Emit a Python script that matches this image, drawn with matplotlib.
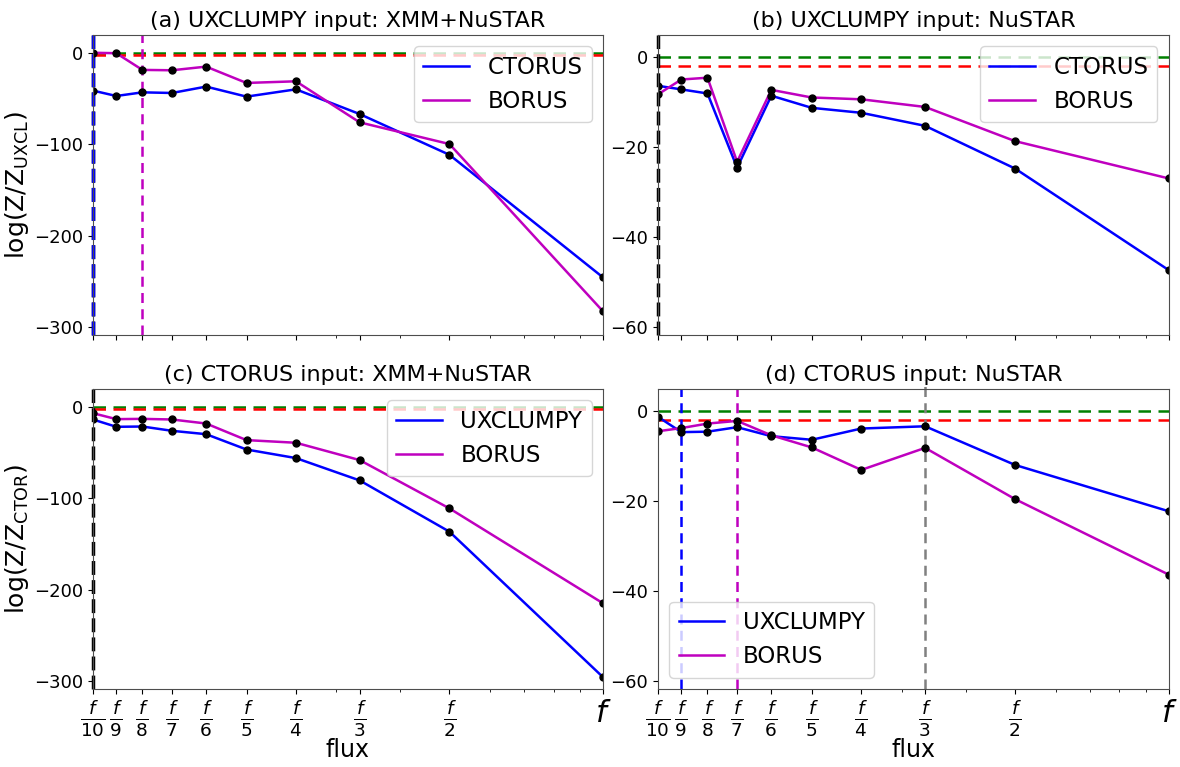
import matplotlib

matplotlib.use("Agg")
import matplotlib.pyplot as plt

# flux grid (fractions of f)
flux = [1 / 10, 1 / 9, 1 / 8, 1 / 7, 1 / 6, 1 / 5, 1 / 4, 1 / 3, 1 / 2, 1]
tick_labels = [r"$\frac{f}{10}$", r"$\frac{f}{9}$", r"$\frac{f}{8}$", r"$\frac{f}{7}$",
               r"$\frac{f}{6}$", r"$\frac{f}{5}$", r"$\frac{f}{4}$", r"$\frac{f}{3}$",
               r"$\frac{f}{2}$", r"$f$"]

# (a) UXCLUMPY input, XMM+NuSTAR
a_ctorus = [-41, -46.9, -42.9, -43.6, -36.6, -47.6, -39.6, -66.7, -111.4, -245.8]
a_borus = [0.5, 0, -18.3, -18.7, -14.7, -32.6, -30.8, -75.8, -99.6, -283]
# (b) UXCLUMPY input, NuSTAR
b_ctorus = [-6.4, -7.2, -8.1, -24.6, -8.6, -11.3, -12.4, -15.3, -24.8, -47.4]
b_borus = [-8.3, -5.0, -4.6, -23.3, -7.3, -9.0, -9.4, -11.1, -18.7, -27.0]
# (c) CTORUS input, XMM+NuSTAR
c_uxclumpy = [-13.5, -21.5, -21.2, -25.9, -29.6, -46.4, -55.8, -80.3, -136.5, -296]
c_borus = [-6.6, -13.1, -12.8, -13.5, -17.9, -36.1, -39, -58, -111, -215]
# (d) CTORUS input, NuSTAR
d_uxclumpy = [-1.3, -4.7, -4.6, -3.6, -5.6, -6.4, -3.9, -3.4, -12.0, -22.3]
d_borus = [-4.5, -3.8, -2.8, -2.2, -5.4, -8.1, -13.1, -8.2, -19.6, -36.4]

panels = [
    ("(a) UXCLUMPY input: XMM+NuSTAR", ("CTORUS", a_ctorus), ("BORUS", a_borus),
     [(1 / 10, "k"), (1 / 10, "b"), (1 / 8, "m")], "upper right"),
    ("(b) UXCLUMPY input: NuSTAR", ("CTORUS", b_ctorus), ("BORUS", b_borus),
     [(1 / 10, "k")], "upper right"),
    ("(c) CTORUS input: XMM+NuSTAR", ("UXCLUMPY", c_uxclumpy), ("BORUS", c_borus),
     [(1 / 10, "k")], "upper right"),
    ("(d) CTORUS input: NuSTAR", ("UXCLUMPY", d_uxclumpy), ("BORUS", d_borus),
     [(1 / 9, "b"), (1 / 7, "m"), (1 / 3, "gray")], "lower left"),
]

fig = plt.figure(figsize=(11.8, 7.67), dpi=100)
positions = [
    [0.0788, 0.5632, 0.4322, 0.3912],
    [0.5576, 0.5632, 0.4330, 0.3912],
    [0.0788, 0.1017, 0.4322, 0.3912],
    [0.5576, 0.1017, 0.4330, 0.3912],
]
axes = [fig.add_axes(p) for p in positions]

for i, (ax, (title, s1, s2, vlines, loc)) in enumerate(zip(axes, panels)):
    ax.axhline(0, color="g", ls="--", lw=1.8, dashes=(5, 3))
    ax.axhline(-2, color="r", ls="--", lw=1.8, dashes=(5, 3))
    for xv, col in vlines:
        edge = xv == 1 / 10
        if edge:
            ax.axvline(xv, color=col, ls="--", lw=2.5, dashes=(4, 1.5), clip_on=False)
        else:
            ax.axvline(xv, color=col, ls="--", lw=1.8, dashes=(4, 2.5),
                       ymax=1.03 if col == "gray" else 1, clip_on=col != "gray")
    ax.plot(flux, s1[1], color="b", lw=1.8, label=s1[0])
    ax.plot(flux, s2[1], color="m", lw=1.8, label=s2[0])
    ax.plot(flux, s1[1], "ko", ms=5)
    ax.plot(flux, s2[1], "ko", ms=5)

    ax.set_xscale("log")
    ax.set_xlim(0.1, 1)
    ax.set_xticks(flux)
    if i >= 2:
        ax.set_xticklabels(tick_labels, fontsize=19)
        ax.get_xticklabels()[-1].set_fontsize(22)
        ax.set_xlabel("flux", fontsize=17, labelpad=-1)
    else:
        ax.set_xticklabels([])
    ax.tick_params(axis="x", which="minor", labelbottom=False)
    if i % 2 == 0:
        ax.set_ylim(-309, 20)
        ax.set_yticks([0, -100, -200, -300])
    else:
        ax.set_ylim(-61.8, 4.9)
        ax.set_yticks([0, -20, -40, -60])
    ax.tick_params(axis="y", labelsize=13)
    for sp in ax.spines.values():
        sp.set_color("0.3")
    ax.set_title(title, fontsize=16)
    ax.legend(loc=loc, fontsize=16.5)

axes[0].set_ylabel(r"log(Z/Z$_{\rm UXCL}$)", fontsize=18, labelpad=2)
axes[2].set_ylabel(r"log(Z/Z$_{\rm CTOR}$)", fontsize=18, labelpad=2)

fig.savefig("out.png", dpi=100)
